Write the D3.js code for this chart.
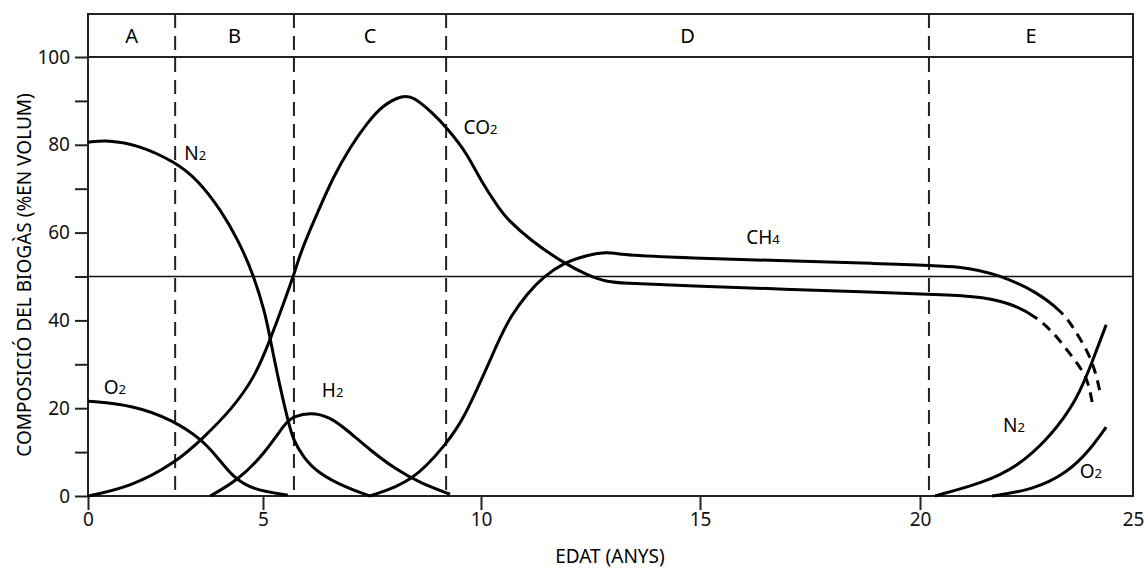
<!DOCTYPE html>
<html>
<head>
<meta charset="utf-8">
<script src="https://cdn.jsdelivr.net/npm/d3@7"></script>
<style>
  body { margin: 0; background: #fff; }
  svg { display: block; font-family: 'Noto Sans', 'Open Sans', sans-serif; }
</style>
</head>
<body>
<svg id="chart" width="1144" height="570"></svg>
<script>
// ── data (edat en anys, % en volum) ─────────────────────────
const xTicks = [0, 5, 10, 15, 20, 25];
const yTicks = [0, 10, 20, 30, 40, 50, 60, 70, 80, 90, 100];
const phases = ['A', 'B', 'C', 'D', 'E'];
const phaseBounds = [0, 2.49, 5.71, 9.2, 20.21, 25];

const n2Early = [[0, 80.6], [0.57, 81.1], [1.43, 80.0], [2.49, 76.1], [3.14, 72.0], [3.8, 65.1],
  [4.29, 58.3], [4.71, 50.8], [5.05, 41.7], [5.16, 36.0], [5.39, 24.8], [5.57, 17.3],
  [5.69, 12.8], [5.92, 8.9], [6.26, 5.2], [6.93, 1.8], [7.45, 0]];
const o2Early = [[0, 21.6], [1.29, 20.7], [2.43, 17.3], [3.26, 12.8], [3.69, 8.9],
  [4.14, 4.3], [4.71, 1.4], [5.57, 0.2]];
const h2 = [[3.49, 0], [4.29, 3.6], [5.05, 9.8], [5.53, 16.9], [5.69, 18.0], [6.08, 19.1],
  [6.54, 18.0], [6.93, 15.0], [7.45, 10.5], [8.07, 5.9], [8.6, 3.0], [9.29, 0.4]];
const co2 = [[0, 0], [1.23, 2.1], [2.49, 7.5], [3.29, 13.2], [4.09, 19.6], [4.77, 27.1],
  [5.16, 35.5], [5.5, 44.6], [5.69, 49.9], [5.85, 55.0], [6.03, 59.5], [6.24, 64.3],
  [6.61, 72.7], [7.0, 79.5], [7.39, 85.0], [7.75, 89.1], [8.21, 91.3], [8.44, 91.0],
  [8.9, 87.2], [9.22, 83.8], [9.68, 78.1], [9.98, 72.0], [10.44, 65.1], [10.62, 62.9],
  [11.12, 58.3], [11.88, 53.1], [12.43, 50.3], [12.89, 48.7], [13.33, 48.5], [14.09, 48.1],
  [19.55, 46.2], [20.7, 45.8], [21.48, 45.3], [22.1, 44.0], [22.75, 40.8]];
const co2Tail = [[23.2, 36.5], [23.6, 31.4], [23.93, 27.1], [24.04, 21.4]];
const ch4 = [[7.45, 0], [8.44, 3.2], [9.22, 12.1], [9.59, 17.3], [10.14, 29.4], [10.44, 36.2],
  [10.67, 40.8], [11.06, 46.2], [11.42, 49.9], [11.88, 53.1], [12.43, 54.9], [12.89, 55.6],
  [13.19, 55.0], [14.09, 54.4], [19.55, 52.8], [21.0, 52.4], [21.88, 50.3], [22.75, 46.5],
  [23.36, 41.7]];
const ch4Tail = [[23.59, 38.5], [23.92, 33.3], [24.11, 28.7], [24.23, 23.5]];
const n2Late = [[20.35, 0], [21.48, 3.0], [22.28, 6.6], [23.05, 13.4], [23.69, 21.9],
  [24.06, 31.0], [24.37, 39.0]];
const o2Late = [[21.69, 0], [22.65, 1.4], [23.45, 5.2], [23.99, 10.5], [24.37, 15.7]];

// etiquetes de corba: [x, y, base, subíndex]
const curveLabels = [
  [2.75, 76.5, 'N', '2'], [0.45, 23.3, 'O', '2'], [6.35, 22.6, 'H', '2'],
  [9.6, 82.5, 'CO', '2'], [16.05, 57.5, 'CH', '4'], [21.95, 14.5, 'N', '2'], [23.75, 4.0, 'O', '2'],
];

// ── escales ────────────────────────────────────────────────
const svg = d3.select('#chart');
const L = 88, R = 1133, T = 14, B = 496;
// l'eix original no és uniforme entre 0 i 5
const x = d3.scaleLinear().domain(xTicks).range([L, 263, 481, 700, 920, R]);
const y = d3.scaleLinear().domain([0, 100]).range([B, 57]);
const FONT = 19;

// marc + línies horitzontals
svg.append('rect')
  .attr('x', L).attr('y', T).attr('width', R - L).attr('height', B - T)
  .attr('fill', 'none').attr('stroke', '#222').attr('stroke-width', 2);
svg.append('line')
  .attr('x1', L).attr('x2', R).attr('y1', y(100)).attr('y2', y(100))
  .attr('stroke', '#222').attr('stroke-width', 2);
svg.append('line')
  .attr('x1', L).attr('x2', R).attr('y1', y(50)).attr('y2', y(50))
  .attr('stroke', '#111').attr('stroke-width', 1.5);

// fases
svg.append('g').selectAll('line').data(phaseBounds.slice(1, -1)).join('line')
  .attr('x1', d => x(d)).attr('x2', d => x(d))
  .attr('y1', T).attr('y2', B)
  .attr('stroke', '#222').attr('stroke-width', 2)
  .attr('stroke-dasharray', '14,8');
svg.append('g').selectAll('text').data(phases).join('text')
  .attr('x', (d, i) => (x(phaseBounds[i]) + x(phaseBounds[i + 1])) / 2)
  .attr('y', 43)
  .attr('text-anchor', 'middle')
  .attr('font-size', 20)
  .text(d => d);

// eixos
const xAxis = svg.append('g').attr('transform', `translate(0,${B})`)
  .call(d3.axisBottom(x).tickValues(xTicks).tickSize(14).tickPadding(3));
const yAxis = svg.append('g').attr('transform', `translate(${L},0)`)
  .call(d3.axisLeft(y).tickValues(yTicks).tickSize(13).tickPadding(5)
    .tickFormat(d => d % 20 === 0 ? d : ''));
for (const ax of [xAxis, yAxis]) {
  ax.select('.domain').remove();
  ax.selectAll('line').attr('stroke', '#222').attr('stroke-width', 2);
  ax.selectAll('text').attr('font-size', FONT).attr('fill', '#111')
    .attr('font-family', "'Noto Sans', sans-serif");
}
xAxis.select('.tick:last-child line').remove();

svg.append('text')
  .attr('x', 610).attr('y', 563)
  .attr('text-anchor', 'middle').attr('font-size', 19)
  .text('EDAT (ANYS)');
svg.append('text')
  .attr('transform', 'translate(31,275) rotate(-90)')
  .attr('text-anchor', 'middle').attr('font-size', 19)
  .text('COMPOSICIÓ DEL BIOGÀS (%EN VOLUM)');

// corbes (traç de mà: suavitzat amb B-spline)
const line = d3.line().x(d => x(d[0])).y(d => y(d[1])).curve(d3.curveBasis);
const solid = [n2Early, o2Early, h2, n2Late, o2Late];
svg.append('g').selectAll('path').data(solid).join('path')
  .attr('d', line)
  .attr('fill', 'none').attr('stroke', '#000').attr('stroke-width', 3)
  .attr('stroke-linejoin', 'round');

// CO2 i CH4: tram sòlid + final discontinu en un sol camí
function tailed(pts, tail) {
  const p = svg.append('path')
    .attr('d', line(pts.concat(tail)))
    .attr('fill', 'none').attr('stroke', '#000').attr('stroke-width', 3);
  const node = p.node(), total = node.getTotalLength();
  const xJoin = x(pts[pts.length - 1][0]);
  let lo = 0, hi = total;
  while (hi - lo > 0.5) {
    const m = (lo + hi) / 2;
    if (node.getPointAtLength(m).x < xJoin) lo = m; else hi = m;
  }
  const dash = [lo];
  for (let s = lo; s < total + 20; s += 17) dash.push(7, 10);
  p.attr('stroke-dasharray', dash.join(','));
}
tailed(co2, co2Tail);
tailed(ch4, ch4Tail);

// etiquetes
const lab = svg.append('g').selectAll('text').data(curveLabels).join('text')
  .attr('x', d => x(d[0])).attr('y', d => y(d[1]))
  .attr('font-size', FONT);
lab.append('tspan').text(d => d[2]);
lab.append('tspan').attr('font-size', 13).text(d => d[3]);
</script>
</body>
</html>
